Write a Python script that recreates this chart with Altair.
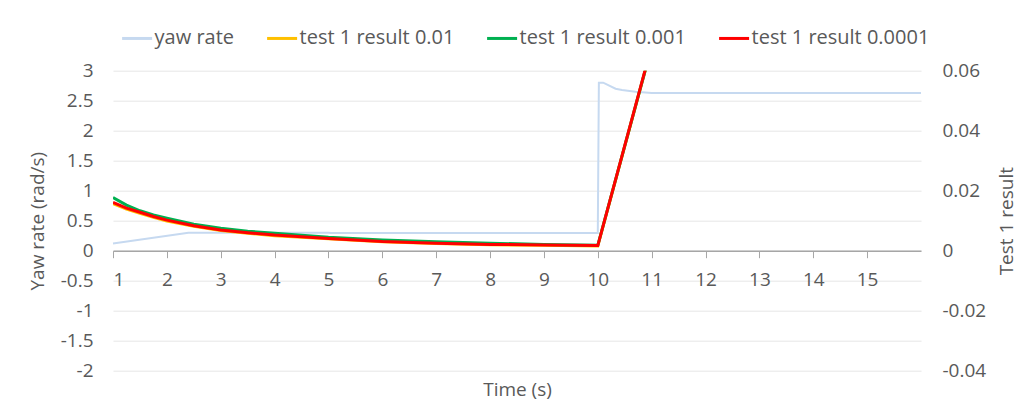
import altair as alt
import pandas as pd

# ---- data ----
series_names = ["yaw rate", "test 1 result 0.01", "test 1 result 0.001", "test 1 result 0.0001"]
series_colors = ["#c6d9f0", "#ffc000", "#00b050", "#ff0000"]

yaw_time = [1, 2.4, 5, 5.05, 10, 10.02, 10.1, 10.33, 10.45, 10.7, 11, 16]
yaw_rate = [0.12, 0.30, 0.30, 0.295, 0.295, 2.80, 2.80, 2.70, 2.68, 2.65, 2.63, 2.63]

test_time = [1, 1.25, 1.5, 1.75, 2, 2.5, 3, 3.5, 4, 5, 6, 7, 8, 9, 10, 11]
res_0_01 = [0.0157, 0.0139, 0.0125, 0.0111, 0.0099, 0.0081, 0.0067, 0.0058, 0.0050, 0.0040, 0.0030, 0.0024, 0.0020, 0.0018, 0.0016, 0.0680]
res_0_001 = [0.0177, 0.0152, 0.0133, 0.0119, 0.0108, 0.0088, 0.0075, 0.0065, 0.0058, 0.0045, 0.0036, 0.0030, 0.0025, 0.0021, 0.0018, 0.0680]
res_0_0001 = [0.0161, 0.0142, 0.0128, 0.0114, 0.0102, 0.0083, 0.0069, 0.0060, 0.0052, 0.0041, 0.0031, 0.0025, 0.0021, 0.0019, 0.0017, 0.0683]

x_ticks = list(range(1, 16))
left_ticks = [-2, -1.5, -1, -0.5, 0, 0.5, 1, 1.5, 2, 2.5, 3]
right_ticks = [-0.04, -0.02, 0, 0.02, 0.04, 0.06]

FONT = "Open Sans"
TXT = "#595959"
FS = 19

yaw_df = pd.DataFrame({"t": yaw_time, "v": yaw_rate, "s": series_names[0], "i": range(len(yaw_time))})
test_frames = []
for name, vals in zip(series_names[1:], [res_0_01, res_0_001, res_0_0001]):
    test_frames.append(pd.DataFrame({"t": test_time, "v": vals, "s": name, "i": range(len(test_time))}))

color_scale = alt.Scale(domain=series_names, range=series_colors)
x_scale = alt.Scale(domain=[1, 16], nice=False, zero=False)

legend = alt.Legend(
    title=None, orient="none", legendX=7.6, legendY=-49, direction="horizontal",
    symbolType="stroke", symbolSize=900, symbolStrokeWidth=3,
    labelFont=FONT, labelFontSize=20, labelColor=TXT, labelOffset=1, labelLimit=400,
    columnPadding=26, padding=0,
)

x_axis = alt.Axis(
    values=x_ticks, title="Time (s)", offset=-120, grid=False, orient="bottom",
    domainColor="#a6a6a6", tickColor="#a6a6a6", tickSize=7, domainWidth=1.5,
    labelFont=FONT, labelFontSize=FS, labelColor=TXT, labelPadding=13,
    titleFont=FONT, titleFontSize=FS, titleColor=TXT, titleFontWeight="normal",
    titleY=139, titleBaseline="middle", labelExpr="'' + datum.value",
)
x_enc = alt.X("t:Q", scale=x_scale, axis=x_axis)

yaw = alt.Chart(yaw_df).mark_line(strokeWidth=2).encode(
    x=x_enc,
    y=alt.Y("v:Q", scale=alt.Scale(domain=[-2, 3], nice=False, zero=False),
            axis=alt.Axis(values=left_ticks, title="Yaw rate (rad/s)", orient="left",
                          grid=True, gridColor="#e6e6e6", domain=False, ticks=False,
                          labelFont=FONT, labelFontSize=FS, labelColor=TXT, labelPadding=20,
                          labelExpr="'' + datum.value",
                          titleFont=FONT, titleFontSize=FS, titleColor=TXT, titleFontWeight="normal",
                          titleX=-76, titleBaseline="middle", titleAngle=270)),
    color=alt.Color("s:N", scale=color_scale, legend=legend),
    order="i:Q",
)

right_y = alt.Y("v:Q", scale=alt.Scale(domain=[-0.04, 0.06], nice=False, zero=False),
                axis=alt.Axis(values=right_ticks, title="Test 1 result", orient="right",
                              grid=False, domain=False, ticks=False,
                              labelFont=FONT, labelFontSize=FS, labelColor=TXT, labelPadding=21,
                              labelExpr="'' + datum.value",
                              titleFont=FONT, titleFontSize=FS, titleColor=TXT, titleFontWeight="normal",
                              titleX=86, titleBaseline="middle", titleAngle=270))

test_layers = []
for df in test_frames:
    test_layers.append(
        alt.Chart(df).mark_line(strokeWidth=3, clip=True).encode(
            x=x_enc,
            y=right_y,
            color=alt.Color("s:N", scale=color_scale, legend=legend),
            order="i:Q",
        )
    )

tests = alt.layer(*test_layers)

chart = alt.layer(yaw, tests).resolve_scale(y="independent").properties(
    width=808, height=300,
    autosize=alt.AutoSizeParams(type="none"),
    padding={"left": 105, "top": 62.7, "right": 102, "bottom": 40},
    background="white",
).configure_view(stroke=None)

chart.save("out.html", embed_options={"renderer": "svg", "actions": False})
